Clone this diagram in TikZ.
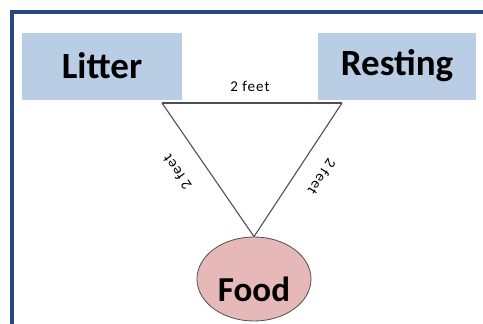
\documentclass[tikz,border=0pt]{standalone}
\usepackage{fontspec}
\setmainfont{Carlito}
\usetikzlibrary{shapes.geometric}
\definecolor{frameblue}{RGB}{36,74,125}
\definecolor{boxblue}{RGB}{185,205,229}
\definecolor{foodpink}{RGB}{230,185,184}
\definecolor{edgegray}{RGB}{80,80,80}
\tikzset{
  area/.style={rectangle, fill=boxblue, minimum height=67pt, inner sep=0pt,
    font=\fontsize{37}{40}\selectfont\bfseries},
  food/.style={ellipse, fill=foodpink, draw=edgegray, line width=0.8pt,
    minimum width=114pt, minimum height=84pt, inner sep=0pt,
    font=\fontsize{35}{38}\selectfont\bfseries},
  side/.style={edgegray, line width=1.1pt},
  dist/.style={font=\fontsize{15}{17}\selectfont\addfontfeature{LetterSpace=7}, inner sep=0pt}
}
\begin{document}
\begin{tikzpicture}[x=1pt, y=-1pt]
\useasboundingbox (0,0) rectangle (483,324);
\clip (0,0) rectangle (483,324);
% outer frame, running past the right and bottom edges
\draw[frameblue, line width=4pt] (12,340) -- (12,12) -- (500,12);
% the three areas
\node[area, minimum width=160pt] (litter) at (102,66) {Litter};
\node[area, minimum width=158pt] (resting) at (397,66) {Resting};
% label sits low in the ellipse: tall empty box above the baseline
\node[food] (food) at (254,279) {\raisebox{0pt}[44pt][0pt]{Food}};
% triangle of distances
\coordinate (tl) at (162,103);
\coordinate (tr) at (342,103);
\draw[side] (tl) -- (tr);
\draw[side] (tl) -- (food.north);
\draw[side] (tr) -- (food.north);
\node[dist] (top) at (250,86) {2 feet};
\node[dist, rotate=124.8] (left) at (177,172) {2 feet};
\node[dist, rotate=-122.8] (right) at (322,177) {2 feet};
\end{tikzpicture}
\end{document}
